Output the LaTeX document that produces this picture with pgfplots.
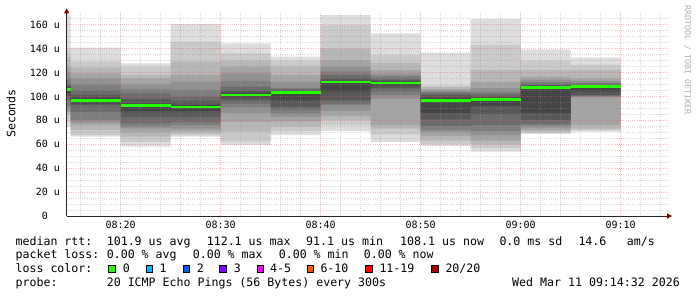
\documentclass[border=0pt]{standalone}
\usepackage{fontspec}
\setmonofont{DejaVu Sans Mono}
\usepackage{pgfplots}
\pgfplotsset{compat=1.18}
\usepackage{pgfplotstable}
\usepgfplotslibrary{fillbetween}
\usetikzlibrary{arrows.meta}

\definecolor{majgrid}{RGB}{255,80,80}
\definecolor{mingrid}{RGB}{150,150,150}
\definecolor{medgreen}{RGB}{38,255,0}
\definecolor{arrowred}{RGB}{128,0,0}
\definecolor{wmark}{RGB}{175,175,175}
\definecolor{g1}{RGB}{221,221,221}
\definecolor{g2}{RGB}{202,202,202}
\definecolor{g3}{RGB}{183,183,183}
\definecolor{g4}{RGB}{164,164,164}
\definecolor{g5}{RGB}{145,145,145}
\definecolor{g6}{RGB}{126,126,126}
\definecolor{g7}{RGB}{107,107,107}
\definecolor{g8}{RGB}{88,88,88}
\definecolor{g9}{RGB}{69,69,69}
\definecolor{g10}{RGB}{50,50,50}
\definecolor{c0}{RGB}{38,255,0}
\definecolor{c1}{RGB}{0,184,255}
\definecolor{c2}{RGB}{0,89,255}
\definecolor{c3}{RGB}{126,0,255}
\definecolor{c4}{RGB}{255,0,255}
\definecolor{c6}{RGB}{255,85,0}
\definecolor{c11}{RGB}{255,0,0}
\definecolor{c20}{RGB}{161,0,0}

\newcommand\tickfont{\ttfamily\fontsize{10bp}{12bp}\selectfont}
\newcommand\legfont{\ttfamily\fontsize{11.6bp}{14bp}\selectfont}
\newcommand\wmfont{\ttfamily\fontsize{8.3bp}{10bp}\selectfont}

% minutes after 08:00 (bin end), 20 sorted pings, median
\pgfplotstableread{
x p1 p2 p3 p4 p5 p6 p7 p8 p9 p10 p11 p12 p13 p14 p15 p16 p17 p18 p19 p20 med
14.6 74.5 79 84.6 87 89 92 97 100 103 105.5 106.3 107.5 109 111 115 120 125 133 139 168.4 105.9
15 74.5 79 84.6 87 89 92 97 100 103 105.5 106.3 107.5 109 111 115 120 125 133 139 168.4 105.9
20 66.3 67.7 72 76.1 78 80.3 87 92.8 94 96.3 97.2 99 101.2 105 110 115 119.3 124 129 140.7 96.7
25 58 62 66.3 70 73.3 75 77.5 83 88 92 92.8 94.2 98 102.6 106 110 115.1 118 124.8 127.7 92.4
30 66.3 67.5 69.1 71 73 76 78.8 83 88 90.9 91.5 93 96 100 105.4 112.3 118 129 145.7 160.5 91.2
35 59.5 62.1 70.5 78.8 86 91 94 97 99 100.7 101.7 103 105 108.1 113 119.3 125 130 136 144.4 101.2
40 67.7 71 74.7 79 83 86 89 91.4 97 103 103.6 104.2 105 106 107 112 117.9 125 130 133.2 103.3
45 71 76 80.3 84 88 92.8 94 97 104 111.8 112.4 113 115 118 121 125 130.4 140 159.7 168 112.1
50 62 68 73 76 98 101 104 107 109 111 111.7 112.5 113.5 115 117 119 122 128 134.6 152.7 111.3
55 58.4 60.4 63 66.8 70 72 75.2 80.8 86 96.2 97 99 101 102.5 104 104.7 106 108 109 136.7 96.6
60 53.8 57 60 63 67.7 71 76 85 92 96.8 97.5 99 100 102 104 107 112 122 143 164.7 97.1
65 68.6 69.5 70.5 72 74 75.5 77 80.3 86 107.3 107.9 108.5 109.5 110.5 112 114 116.5 122 130 139.4 107.6
70 70.5 71.5 73 76.1 99.2 99.8 100.5 101.2 104 107.8 108.6 109.2 109.7 110.5 111.5 113 115.1 122 126.3 132.4 108.1
}\smoke

\newcommand{\band}[3]{%
  \addplot[draw=none, forget plot, const plot mark right, name path=lo#1] table[x=x,y=p#2]{\smoke};
  \addplot[draw=none, forget plot, const plot mark right, name path=hi#1] table[x=x,y=p#3]{\smoke};
  \addplot[fill=g#1, draw=none, forget plot] fill between[of=lo#1 and hi#1];
}

\begin{document}
\begin{tikzpicture}
\begin{scope}[x=1bp, y=-1bp, shift={(-66.7bp,216bp)}]
  \path[use as bounding box] (0,0) rectangle (697,297);
  \node[rotate=90, font=\legfont, inner sep=0pt] at (11,113.5) {Seconds};
  \node[rotate=-90, font=\wmfont, text=wmark, inner sep=0pt] at (687.5,60) {RRDTOOL / TOBI OETIKER};
  % legend
  \begin{scope}[every node/.style={anchor=base west, inner sep=0pt, font=\legfont}]
    \node at (15.4,245) {median rtt:};
    \node at (106.6,245) {101.9 us avg};
    \node at (206.6,245) {112.1 us max};
    \node at (306.0,245) {91.1 us min};
    \node at (400.0,245) {108.1 us now};
    \node at (499.3,245) {0.0 ms sd};
    \node at (578.3,245) {14.6};
    \node at (626.6,245) {am/s};
    \node at (15.4,258.7) {packet loss:};
    \node at (106.6,258.7) {0.00 \% avg};
    \node at (192.6,258.7) {0.00 \% max};
    \node at (278.6,258.7) {0.00 \% min};
    \node at (363.6,258.7) {0.00 \% now};
    \node at (15.4,272.5) {loss color:};
    \node at (122.6,272.5) {0};
    \node at (159.3,272.5) {1};
    \node at (196.6,272.5) {2};
    \node at (233.6,272.5) {3};
    \node at (270.0,272.5) {4-5};
    \node at (320.3,272.5) {6-10};
    \node at (379.3,272.5) {11-19};
    \node at (445.3,272.5) {20/20};
    \node at (15.4,286.3) {probe:};
    \node at (106.6,286.3) {20 ICMP Echo Pings (56 Bytes) every 300s};
    \node at (512.0,286.3) {Wed Mar 11 09:14:32 2026};
  \end{scope}
  \begin{scope}[line width=0.8bp, draw=black]
    \filldraw[fill=c0]  (108.6,265.6) rectangle (115.4,272.4);
    \filldraw[fill=c1]  (145.9,265.6) rectangle (152.7,272.4);
    \filldraw[fill=c2]  (182.9,265.6) rectangle (189.7,272.4);
    \filldraw[fill=c3]  (219.6,265.6) rectangle (226.4,272.4);
    \filldraw[fill=c4]  (256.9,265.6) rectangle (263.7,272.4);
    \filldraw[fill=c6]  (306.9,265.6) rectangle (313.7,272.4);
    \filldraw[fill=c11] (365.6,265.6) rectangle (372.4,272.4);
    \filldraw[fill=c20] (431.2,265.6) rectangle (438.0,272.4);
  \end{scope}
\end{scope}

\begin{axis}[
  at={(0,0)}, anchor=south west,
  scale only axis, width=601.3bp, height=202.7bp,
  xmin=14.6, xmax=74.73, ymin=0, ymax=169.5,
  axis x line=bottom, axis y line=left,
  x axis line style={-{Triangle[length=5bp,width=5bp,color=arrowred]}, shorten >=-4bp, black!85, line width=1bp},
  y axis line style={-{Triangle[length=5bp,width=5bp,color=arrowred]}, shorten >=-5bp, black!85, line width=1bp},
  xtick={20,30,40,50,60,70},
  xticklabels={08:20,08:30,08:40,08:50,09:00,09:10},
  minor xtick={16,18,22,24,26,28,32,34,36,38,42,44,46,48,52,54,56,58,62,64,66,68,72,74},
  ytick={0,20,40,60,80,100,120,140,160},
  yticklabels={0\phantom{\ u},20 u,40 u,60 u,80 u,100 u,120 u,140 u,160 u},
  minor ytick={5,10,15,25,30,35,45,50,55,65,70,75,85,90,95,105,110,115,125,130,135,145,150,155,165},
  major tick length=0pt, minor tick length=0pt,
  grid=both,
  major grid style={dash pattern=on 1bp off 1.2bp, color=majgrid, opacity=0.42, line width=0.7bp},
  minor grid style={dash pattern=on 1bp off 1.2bp, color=mingrid, opacity=0.38, line width=0.7bp},
  axis on top,
  tick label style={font=\tickfont},
  xticklabel style={anchor=north, inner sep=0pt, yshift=-5bp},
  yticklabel style={anchor=east, inner sep=0pt, xshift=-6.5bp},
]
\band{1}{1}{20}
\band{2}{2}{19}
\band{3}{3}{18}
\band{4}{4}{17}
\band{5}{5}{16}
\band{6}{6}{15}
\band{7}{7}{14}
\band{8}{8}{13}
\band{9}{9}{12}
\band{10}{10}{11}
\addplot[color=medgreen, line width=2.8bp, jump mark right, forget plot] table[x=x,y=med]{\smoke};
\end{axis}
\end{tikzpicture}
\end{document}
